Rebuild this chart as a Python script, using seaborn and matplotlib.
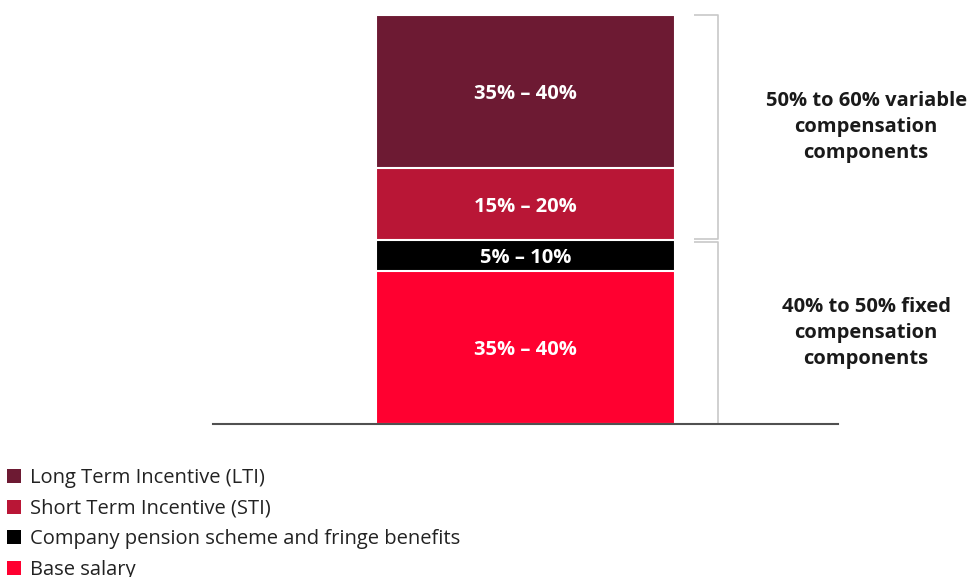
import matplotlib
matplotlib.use("Agg")
import matplotlib.pyplot as plt
from matplotlib.patches import Patch
import numpy as np
import seaborn as sns

# Components of the executive compensation package, bottom to top
components = [
    "Base salary",
    "Company pension scheme and fringe benefits",
    "Short Term Incentive (STI)",
    "Long Term Incentive (LTI)",
]
shares = [37.5, 7.5, 17.5, 37.5]          # midpoint of each stated range
range_labels = ["35% – 40%", "5% – 10%", "15% – 20%", "35% – 40%"]
colors = ["#ff0030", "#000000", "#b91636", "#6d1a33"]

group_labels = [
    "40% to 50% fixed\ncompensation\ncomponents",
    "50% to 60% variable\ncompensation\ncomponents",
]
fixed_count = 2  # base salary + pension are fixed

sns.set_style("white")
plt.rcParams["font.family"] = ["Open Sans", "DejaVu Sans"]

W, H = 973, 577
fig = plt.figure(figsize=(W / 100, H / 100), dpi=100)
ax = fig.add_axes([213 / W, 1 - 424 / H, 625 / W, 409 / H])

tops = np.cumsum(shares)
bottoms = tops - np.array(shares)

# Stacked bar: overlay cumulative totals, tallest first
for i in reversed(range(len(shares))):
    sns.barplot(x=["Package"], y=[tops[i]], color=colors[i], saturation=1,
                width=0.477, edgecolor="white", linewidth=1.5, ax=ax)

for lo, hi, lab in zip(bottoms, tops, range_labels):
    ax.text(0, (lo + hi) / 2 - 0.6, lab, ha="center", va="center", color="white",
            fontsize=14.5, fontweight="bold")

ax.set_xlim(-0.5, 0.5)
ax.set_ylim(0, 100)
ax.set_xticks([])
ax.set_yticks([])
ax.set_xlabel("")
ax.set_ylabel("")
for side in ("top", "left", "right"):
    ax.spines[side].set_visible(False)
ax.spines["bottom"].set_color("#505050")
ax.spines["bottom"].set_linewidth(1.5)

# Brackets grouping fixed and variable components
split = tops[fixed_count - 1]
xb, xt = 0.308, 0.270
bracket_kw = dict(color="#c8c8c8", lw=1.2, clip_on=False, solid_capstyle="butt")
spans = [(0, split - 0.4), (split + 0.35, tops[-1])]
for (lo, hi), lab in zip(spans, group_labels):
    ax.plot([xt, xb, xb, xt], [lo, lo, hi, hi], **bracket_kw)
    ax.text(0.545, (lo + hi) / 2, lab, ha="center", va="center",
            fontsize=14.5, fontweight="bold", color="#1a1a1a",
            linespacing=1.4, clip_on=False)

# Legend, top component first
handles = [Patch(facecolor=c, edgecolor="none") for c in reversed(colors)]
fig.legend(handles, list(reversed(components)), loc="upper left",
           bbox_to_anchor=(7 / W, 1 - 468 / H), frameon=False, fontsize=14.5,
           handlelength=0.68, handleheight=0.68, handletextpad=0.46,
           labelspacing=0.53, borderpad=0, borderaxespad=0, labelcolor="#222222")

fig.savefig("out.png", dpi=100)
